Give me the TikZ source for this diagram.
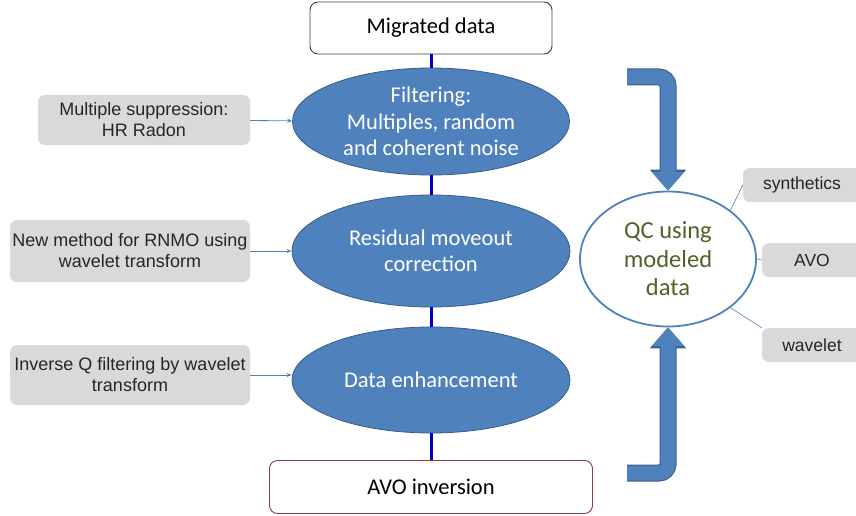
\documentclass[tikz,border=0pt]{standalone}
\usepackage{fontspec}
\setmainfont{Carlito}
\newfontfamily\arialfont{Liberation Sans}
\usetikzlibrary{shapes.geometric, arrows.meta}
\definecolor{stagefill}{RGB}{79,129,189}
\definecolor{stageline}{RGB}{56,93,138}
\definecolor{trunkblue}{RGB}{0,0,200}
\definecolor{notegray}{RGB}{217,217,217}
\definecolor{qctext}{RGB}{79,98,40}
\definecolor{endred}{RGB}{150,60,60}

\begin{document}
\begin{tikzpicture}[
	x=1pt, y=-1pt,
	% Styles for the processing chain
	stage/.style={ellipse, draw=stageline, line width=0.8pt, fill=stagefill, text=white, inner sep=0pt, align=center, font=\fontsize{22.5}{26.5}\selectfont},
	endbox/.style={rectangle, rounded corners=8pt, fill=white, line width=0.9pt, inner sep=0pt, font=\fontsize{22.5}{26}\selectfont},
	note/.style={rectangle, rounded corners=7pt, fill=notegray, text=black!85, inner sep=0pt, align=center, font=\arialfont\fontsize{18}{21}\selectfont},
	tag/.style={note, font=\arialfont\fontsize{17.5}{21}\selectfont},
	qcball/.style={ellipse, draw=stagefill, line width=1.8pt, fill=white, text=qctext, inner sep=0pt, align=center, font=\fontsize{24.5}{28.5}\selectfont},
	trunk/.style={draw=trunkblue, line width=3pt},
	feed/.style={draw=stagefill, line width=0.8pt, -{Stealth[length=5pt, width=4pt]}},
	link/.style={draw=stagefill, line width=0.6pt},
	bigarrow/.style={draw=stagefill, line width=15pt, rounded corners=9pt, -{Triangle[length=19pt, width=32pt]},
		preaction={draw=stageline, line width=17pt, -{Triangle[length=21pt, width=35pt]}}}
	]
	
	\clip (0,0) rectangle (856,516);
	
	% ==========================================
	% 1. MAIN CHAIN
	% ==========================================
	\node[endbox, draw=black!75, minimum width=242, minimum height=52] (mig) at (431,28) {Migrated data};
	\node[stage, minimum width=277, minimum height=107] (fil) at (431,121.5) {Filtering:\\Multiples, random\\and coherent noise};
	\node[stage, minimum width=278, minimum height=112] (rmo) at (431,251) {Residual moveout\\correction};
	\node[stage, minimum width=278, minimum height=106] (enh) at (431,380) {Data enhancement};
	\node[endbox, draw=endred, minimum width=323, minimum height=53] (avoinv) at (431,487) {AVO inversion};
	
	\draw[trunk] (mig) -- (fil);
	\draw[trunk] (fil) -- (rmo);
	\draw[trunk] (rmo) -- (enh);
	\draw[trunk] (enh) -- (avoinv);
	
	% ==========================================
	% 2. METHODS ON THE LEFT
	% ==========================================
	\node[note, minimum width=212, minimum height=50] (sup) at (144,120) {Multiple suppression:\\HR Radon};
	\node[note, minimum width=240, minimum height=62] (rnmo) at (130,251) {New method for RNMO using\\wavelet transform};
	\node[note, minimum width=240, minimum height=60] (invq) at (130,375) {Inverse Q filtering by wavelet\\transform};
	
	\draw[feed] (sup) -- (fil);
	\draw[feed] (rnmo) -- (rmo);
	\draw[feed] (invq.east) -- (invq.east -| enh.west);
	
	% ==========================================
	% 3. QC WITH MODELED DATA
	% ==========================================
	\node[qcball, minimum width=176, minimum height=135] (qc) at (668,259) {QC using\\modeled\\data};
	\node[tag, minimum width=118, minimum height=34] (syn) at (802,185) {synthetics};
	\node[tag, minimum width=100, minimum height=34] (avo) at (812,260) {AVO};
	\node[tag, minimum width=100, minimum height=34] (wav) at (812,345) {wavelet};
	
	\draw[link] (qc.38) -- (syn.west);
	\draw[link] (qc.east) -- (avo.west);
	\draw[link] (qc.-38) -- (wav.north west);
	
	% Bent arrows into the QC ellipse
	\coordinate (topstart) at (627,77);
	\coordinate (botstart) at (627,473);
	\draw[bigarrow] (topstart) -| (qc.north);
	\draw[bigarrow] (botstart) -| (qc.south);
	
\end{tikzpicture}
\end{document}
